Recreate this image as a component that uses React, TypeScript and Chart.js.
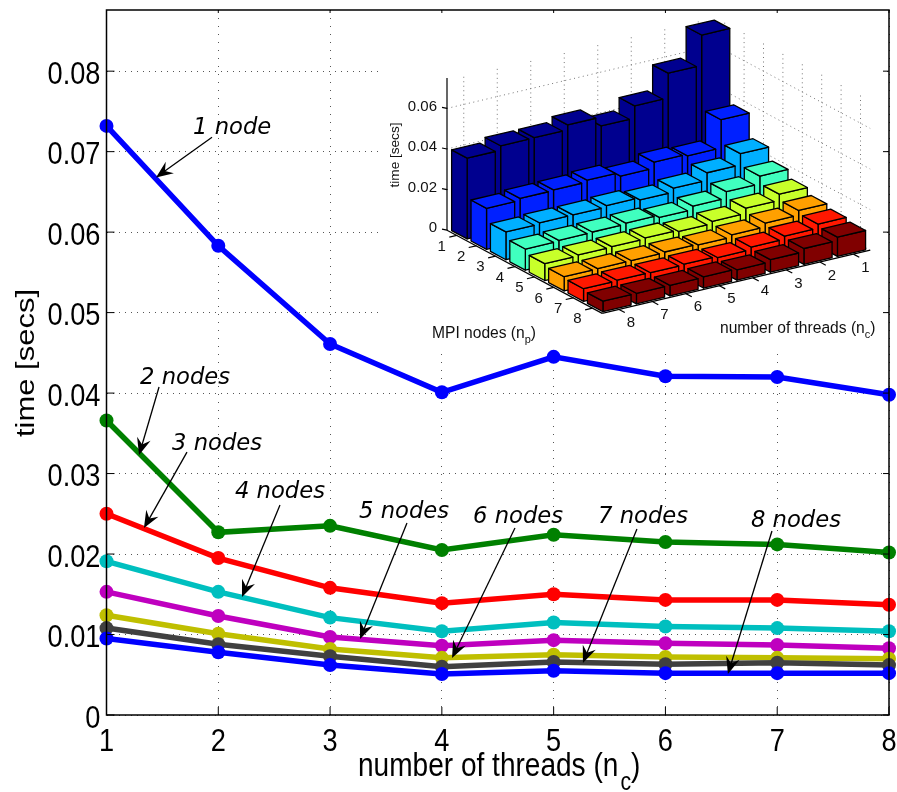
import React, { useEffect, useRef } from "react";
import { Chart, registerables } from "chart.js";

Chart.register(...registerables);

const threads = ["1", "2", "3", "4", "5", "6", "7", "8"];
const yTicks = [0, 0.01, 0.02, 0.03, 0.04, 0.05, 0.06, 0.07, 0.08];
const node1 = [0.0732, 0.0583, 0.0461, 0.0401, 0.0445, 0.0421, 0.042, 0.0398];
const node2 = [0.0366, 0.0227, 0.0235, 0.0205, 0.0224, 0.0215, 0.0212, 0.0202];
const node3 = [0.025, 0.0195, 0.0158, 0.0139, 0.015, 0.0143, 0.0143, 0.0137];
const node4 = [0.0191, 0.0153, 0.0121, 0.0104, 0.0115, 0.011, 0.0108, 0.0104];
const node5 = [0.0153, 0.0123, 0.0097, 0.0086, 0.0093, 0.0089, 0.0087, 0.0083];
const node6 = [0.0124, 0.0101, 0.0082, 0.0071, 0.0075, 0.0072, 0.0071, 0.007];
const node7 = [0.0108, 0.0088, 0.0073, 0.006, 0.0066, 0.0063, 0.0065, 0.0062];
const node8 = [0.0095, 0.0078, 0.0062, 0.0051, 0.0055, 0.0052, 0.0052, 0.0052];
const seriesValues = [node1, node2, node3, node4, node5, node6, node7, node8];
const seriesNames = ["1 node", "2 nodes", "3 nodes", "4 nodes", "5 nodes", "6 nodes", "7 nodes", "8 nodes"];
const lineColors = ["#0000ff", "#008000", "#ff0000", "#00bfbf", "#bf00bf", "#bfbf00", "#404040", "#0000ff"];
const barColors = ["#00008f", "#0020ff", "#00afff", "#40ffbf", "#c8ff2a", "#ffa000", "#ff1800", "#800000"];

// Callouts in data units: text anchor, arrow start, arrow tip.
const labelX = [1.774, 1.3, 1.586, 2.149, 3.259, 4.279, 5.397, 6.765];
const labelY = [0.0722, 0.0411, 0.0329, 0.02696, 0.02447, 0.02385, 0.02385, 0.02335];
const arrowFromX = [1.944, 1.47, 1.72, 2.552, 3.688, 4.654, 5.745, 6.953];
const arrowFromY = [0.0718, 0.04075, 0.03267, 0.02609, 0.02385, 0.02323, 0.02311, 0.02286];
const arrowToX = [1.443, 1.291, 1.335, 2.212, 3.268, 4.091, 5.262, 6.559];
const arrowToY = [0.0668, 0.0323, 0.02323, 0.01466, 0.00944, 0.00708, 0.00646, 0.00509];

const insetZTicks = [0, 0.02, 0.04, 0.06];
const SANS = '"Liberation Sans", sans-serif';
const SQUEEZE = 0.85;

// Oblique projection of the inset's 3-D axes onto the canvas.
const proj = (nc: number, np: number, z = 0): [number, number] => [
  715 + (np - 0.5) * 19.4 - (nc - 0.5) * 33.5,
  167 + (np - 0.5) * 10.4 + (nc - 0.5) * 7.9 - z * 2030,
];
const WALL_Z = 0.074;

function poly(ctx: CanvasRenderingContext2D, pts: [number, number][], fill?: string) {
  ctx.beginPath();
  pts.forEach((p, i) => (i ? ctx.lineTo(p[0], p[1]) : ctx.moveTo(p[0], p[1])));
  ctx.closePath();
  if (fill) {
    ctx.fillStyle = fill;
    ctx.fill();
  }
  ctx.stroke();
}
function seg(ctx: CanvasRenderingContext2D, a: [number, number], b: [number, number]) {
  ctx.beginPath();
  ctx.moveTo(a[0], a[1]);
  ctx.lineTo(b[0], b[1]);
  ctx.stroke();
}
// Horizontally squeezed text, like the reference's non-uniformly scaled picture.
function squeezed(ctx: CanvasRenderingContext2D, text: string, x: number, y: number, sx = SQUEEZE) {
  ctx.save();
  ctx.translate(x, y);
  ctx.scale(sx, 1);
  ctx.fillText(text, 0, 0);
  ctx.restore();
}

function drawInset(ctx: CanvasRenderingContext2D) {
  ctx.save();
  ctx.strokeStyle = "#777";
  ctx.lineWidth = 1;
  ctx.setLineDash([1, 3.5]);
  threads.forEach((_, i) => {
    const k = i + 1;
    seg(ctx, proj(k, 0.5), proj(k, 0.5, WALL_Z));
    seg(ctx, proj(0.5, k), proj(0.5, k, WALL_Z));
    seg(ctx, proj(k, 0.5), proj(k, 8.5));
    seg(ctx, proj(0.5, k), proj(8.5, k));
  });
  insetZTicks.forEach((z) => {
    seg(ctx, proj(8.5, 0.5, z), proj(0.5, 0.5, z));
    seg(ctx, proj(0.5, 0.5, z), proj(0.5, 8.5, z));
  });
  ctx.setLineDash([]);

  ctx.strokeStyle = "#000";
  ctx.lineWidth = 1.2;
  seg(ctx, proj(8.5, 0.5), proj(8.5, 0.5, WALL_Z + 0.001));
  seg(ctx, proj(8.5, 0.5), proj(8.5, 8.5));
  seg(ctx, proj(8.5, 8.5), proj(0.5, 8.5));
  ctx.fillStyle = "#111";
  ctx.font = `15px ${SANS}`;
  ctx.textBaseline = "middle";
  ctx.textAlign = "right";
  insetZTicks.forEach((z) => {
    const p = proj(8.5, 0.5, z);
    seg(ctx, p, [p[0] - 5, p[1] - 1]);
    ctx.fillText(z === 0 ? "0" : z.toFixed(2), p[0] - 10, p[1] - 2);
  });
  ctx.textAlign = "center";
  threads.forEach((t, i) => {
    const k = i + 1;
    const a = proj(8.5, k);
    seg(ctx, a, proj(8.72, k));
    ctx.fillText(t, a[0] - 15, a[1] + 11);
    const b = proj(k, 8.5);
    seg(ctx, b, proj(k, 8.8));
    ctx.fillText(t, b[0] + 12, b[1] + 13.5);
  });

  ctx.lineJoin = "round";
  ctx.lineWidth = 1.3;
  ctx.strokeStyle = "#000";
  const hc = 0.42;
  const hp = 0.4;
  seriesValues.forEach((vals, r) => {
    const np = r + 1;
    vals.forEach((v, c) => {
      const nc = c + 1;
      const col = barColors[r];
      const F0 = proj(nc + hc, np + hp);
      const R0 = proj(nc - hc, np + hp);
      const L0 = proj(nc + hc, np - hp);
      const F = proj(nc + hc, np + hp, v);
      const R = proj(nc - hc, np + hp, v);
      const L = proj(nc + hc, np - hp, v);
      const B = proj(nc - hc, np - hp, v);
      poly(ctx, [F0, R0, R, F], col);
      poly(ctx, [F0, L0, L, F], col);
      poly(ctx, [F, R, B, L], col);
    });
  });

  ctx.fillStyle = "#111";
  ctx.textAlign = "left";
  ctx.textBaseline = "alphabetic";
  const tail = (text: string, sub: string, x: number, y: number) => {
    ctx.font = `15.6px ${SANS}`;
    ctx.fillText(text, x, y);
    let cx = x + ctx.measureText(text).width;
    ctx.font = `11px ${SANS}`;
    ctx.fillText(sub, cx, y + 5);
    cx += ctx.measureText(sub).width;
    ctx.font = `15.6px ${SANS}`;
    ctx.fillText(")", cx, y);
  };
  tail("MPI nodes (n", "p", 432, 338);
  tail("number of threads (n", "c", 720, 333);
  ctx.save();
  ctx.translate(399, 155);
  ctx.rotate(-Math.PI / 2);
  ctx.textAlign = "center";
  ctx.font = `13.6px ${SANS}`;
  ctx.fillText("time [secs]", 0, 0);
  ctx.restore();
  ctx.restore();
}

const framePlugin = {
  id: "frame",
  beforeDatasetsDraw(chart: any) {
    const ctx = chart.ctx;
    ctx.save();
    ctx.fillStyle = "#fff";
    ctx.fillRect(382, 12, 501, 340);
    ctx.restore();
  },
  afterDatasetsDraw(chart: any) {
    const ctx: CanvasRenderingContext2D = chart.ctx;
    const { left, right, top, bottom } = chart.chartArea;
    const xs = chart.scales.x;
    const ys = chart.scales.y;
    drawInset(ctx);

    ctx.save();
    ctx.strokeStyle = "#000";
    ctx.lineWidth = 1.5;
    ctx.strokeRect(left, top, right - left, bottom - top);
    ctx.lineWidth = 1;
    threads.forEach((_, i) => {
      const x = xs.getPixelForValue(i);
      seg(ctx, [x, bottom], [x, bottom - 8]);
      seg(ctx, [x, top], [x, top + 3]);
    });
    yTicks.forEach((v) => {
      const y = ys.getPixelForValue(v);
      seg(ctx, [left, y], [left + 8, y]);
      seg(ctx, [right, y], [right - 6, y]);
    });

    // tick labels
    ctx.fillStyle = "#000";
    ctx.textBaseline = "alphabetic";
    ctx.font = `32px ${SANS}`;
    ctx.textAlign = "right";
    yTicks.forEach((v) => {
      squeezed(ctx, v === 0 ? "0" : v.toFixed(2), left - 6, ys.getPixelForValue(v) + 12.5);
    });
    ctx.textAlign = "center";
    threads.forEach((t, i) => squeezed(ctx, t, xs.getPixelForValue(i), 751));

    // callouts
    ctx.font = 'italic 22.7px "DejaVu Sans", sans-serif';
    ctx.textAlign = "left";
    seriesNames.forEach((name, i) => {
      const px = (v: number) => xs.getPixelForValue(v - 1);
      ctx.fillText(name, px(labelX[i]), ys.getPixelForValue(labelY[i]));
      const a: [number, number] = [px(arrowFromX[i]), ys.getPixelForValue(arrowFromY[i])];
      const t: [number, number] = [px(arrowToX[i]), ys.getPixelForValue(arrowToY[i])];
      const ang = Math.atan2(t[1] - a[1], t[0] - a[0]);
      const at = (d: number, w: number): [number, number] => [
        t[0] - d * Math.cos(ang) - w * Math.sin(ang),
        t[1] - d * Math.sin(ang) + w * Math.cos(ang),
      ];
      ctx.lineWidth = 1.3;
      seg(ctx, a, at(10, 0));
      ctx.beginPath();
      [t, at(17, 7), at(11, 0), at(17, -7)].forEach((p, j) =>
        j ? ctx.lineTo(p[0], p[1]) : ctx.moveTo(p[0], p[1])
      );
      ctx.closePath();
      ctx.fill();
    });

    // axis titles
    ctx.font = `33px ${SANS}`;
    ctx.textAlign = "left";
    const tx = 358;
    const ty = 776;
    const main = "number of threads (n";
    squeezed(ctx, main, tx, ty);
    let cx = tx + ctx.measureText(main).width * SQUEEZE;
    ctx.font = `25px ${SANS}`;
    squeezed(ctx, "c", cx + 2, ty + 14);
    cx += ctx.measureText("c").width * SQUEEZE;
    ctx.font = `33px ${SANS}`;
    squeezed(ctx, ")", cx + 2, ty);
    ctx.save();
    ctx.translate(34, 363);
    ctx.scale(0.84, 1);
    ctx.rotate(-Math.PI / 2);
    ctx.textAlign = "center";
    ctx.font = `31px ${SANS}`;
    ctx.fillText("time [secs]", 0, 0);
    ctx.restore();
    ctx.restore();
  },
};

export default function App() {
  const ref = useRef<HTMLCanvasElement>(null);
  useEffect(() => {
    if (!ref.current) return;
    const chart = new Chart(ref.current, {
      type: "line",
      data: {
        labels: threads,
        datasets: seriesValues.map((values, i) => ({
          label: seriesNames[i],
          data: values,
          borderColor: lineColors[i],
          backgroundColor: lineColors[i],
          borderWidth: 5.5,
          pointRadius: 7,
          pointBorderWidth: 0,
          tension: 0,
          clip: false as any,
          order: seriesValues.length - i,
        })),
      },
      options: {
        animation: false,
        responsive: false,
        devicePixelRatio: 1,
        layout: { padding: { top: 10, right: 8, left: 0, bottom: 0 } },
        plugins: { legend: { display: false }, tooltip: { enabled: false }, title: { display: false } },
        scales: {
          x: {
            type: "category",
            offset: false,
            afterFit: (s: any) => {
              s.height = 77;
              s.paddingLeft = 0;
              s.paddingRight = 0;
            },
            border: { display: false, dash: [1, 7] },
            grid: { color: "#555", lineWidth: 1, drawTicks: false },
            ticks: { display: false, autoSkip: false },
          },
          y: {
            type: "linear",
            min: 0,
            max: 0.0876,
            afterFit: (s: any) => {
              s.width = 106.5;
              s.paddingTop = 0;
              s.paddingBottom = 0;
            },
            border: { display: false, dash: [1, 5] },
            grid: { color: "#555", lineWidth: 1, drawTicks: false },
            ticks: { stepSize: 0.01, includeBounds: false, display: false },
          },
        },
      },
      plugins: [framePlugin],
    } as any);
    return () => chart.destroy();
  }, []);
  return (
    <div style={{ position: "absolute", left: 0, top: 0, width: 897, height: 792, background: "#fff" }}>
      <canvas ref={ref} width={897} height={792} style={{ display: "block", width: 897, height: 792 }} />
    </div>
  );
}
